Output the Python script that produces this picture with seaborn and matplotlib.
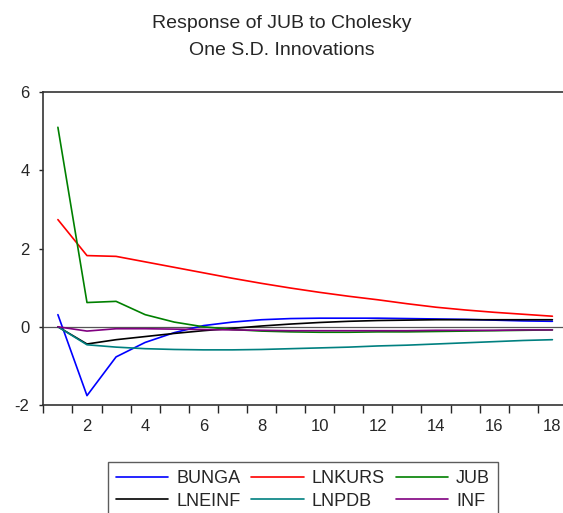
import numpy as np
import pandas as pd
import matplotlib
matplotlib.use('Agg')
import matplotlib.pyplot as plt
import seaborn as sns

periods = list(range(1, 19))

bunga = [0.31, -1.76, -0.77, -0.40, -0.15, 0.03, 0.12, 0.18, 0.21, 0.22, 0.22, 0.22,
         0.21, 0.20, 0.19, 0.17, 0.15, 0.14]
lnkurs = [2.74, 1.82, 1.80, 1.66, 1.52, 1.38, 1.24, 1.11, 0.99, 0.88, 0.78, 0.69,
          0.59, 0.50, 0.43, 0.37, 0.32, 0.27]
jub = [5.10, 0.62, 0.65, 0.31, 0.12, 0.00, -0.07, -0.11, -0.13, -0.14, -0.14, -0.13,
       -0.13, -0.12, -0.11, -0.10, -0.09, -0.08]
lneinf = [0.0, -0.44, -0.33, -0.25, -0.17, -0.10, -0.04, 0.02, 0.07, 0.11, 0.14, 0.16,
          0.17, 0.18, 0.18, 0.18, 0.18, 0.18]
lnpdb = [0.0, -0.46, -0.52, -0.56, -0.58, -0.59, -0.59, -0.58, -0.56, -0.54, -0.52, -0.49,
         -0.47, -0.44, -0.41, -0.38, -0.35, -0.33]
inf = [0.0, -0.11, -0.05, -0.05, -0.06, -0.07, -0.08, -0.09, -0.10, -0.10, -0.10, -0.10,
       -0.10, -0.09, -0.09, -0.09, -0.08, -0.08]

series = {'BUNGA': bunga, 'LNKURS': lnkurs, 'JUB': jub,
          'LNEINF': lneinf, 'LNPDB': lnpdb, 'INF': inf}
colors = {'BUNGA': '#0000FF', 'LNKURS': '#FF0000', 'JUB': '#008000',
          'LNEINF': '#000000', 'LNPDB': '#008080', 'INF': '#800080'}

# legend fills column-wise, so order to get rows BUNGA/LNKURS/JUB, LNEINF/LNPDB/INF
hue_order = ['BUNGA', 'LNEINF', 'LNKURS', 'LNPDB', 'JUB', 'INF']

rows = []
for name, vals in series.items():
    for p, v in zip(periods, vals):
        rows.append({'Period': p, 'Value': v, 'Series': name})
df = pd.DataFrame(rows)

sns.set_style('white')
plt.rcParams['font.family'] = ['Liberation Sans', 'DejaVu Sans']
plt.rcParams['axes.unicode_minus'] = False

fig = plt.figure(figsize=(5.63, 5.13), dpi=100)
ax = fig.add_axes([0.077, 0.2105, 0.93, 0.61])

ax.axhline(0, color='#555555', lw=0.9, zorder=1)
sns.lineplot(data=df, x='Period', y='Value', hue='Series', hue_order=hue_order,
             palette=colors, lw=1.2, ax=ax, legend=True)

ax.set_xlim(0.5, 18.5)
ax.set_ylim(-2, 6)
ax.set_yticks([-2, 0, 2, 4, 6])
ax.set_xticks(range(2, 19, 2))
ax.set_xticks(np.arange(0.5, 18.6, 1), minor=True)
ax.tick_params(axis='x', which='major', length=0, labelsize=12, pad=10)
ax.tick_params(axis='x', which='minor', length=6, width=1, direction='out', bottom=True)
ax.tick_params(axis='y', length=3, width=1, direction='out', left=True, labelsize=12, pad=7)
ax.set_xlabel('')
ax.set_ylabel('')
for s in ax.spines.values():
    s.set_color('#333333')
    s.set_linewidth(1.2)

fig.suptitle('Response of JUB to Cholesky\nOne S.D. Innovations', fontsize=14,
             x=0.5, y=0.970, va='top', linespacing=1.75)

handles, labels = ax.get_legend_handles_labels()
ax.get_legend().remove()
leg = fig.legend(handles, labels, ncol=3, loc='upper center',
                 bbox_to_anchor=(0.538, 0.0994), borderaxespad=0, fontsize=13,
                 frameon=True, fancybox=False, edgecolor='#333333', handlelength=2.9,
                 columnspacing=0.6, handletextpad=0.45, labelspacing=0.3,
                 borderpad=0.45)
leg.get_frame().set_linewidth(1.0)

fig.savefig('out.png', dpi=100)
